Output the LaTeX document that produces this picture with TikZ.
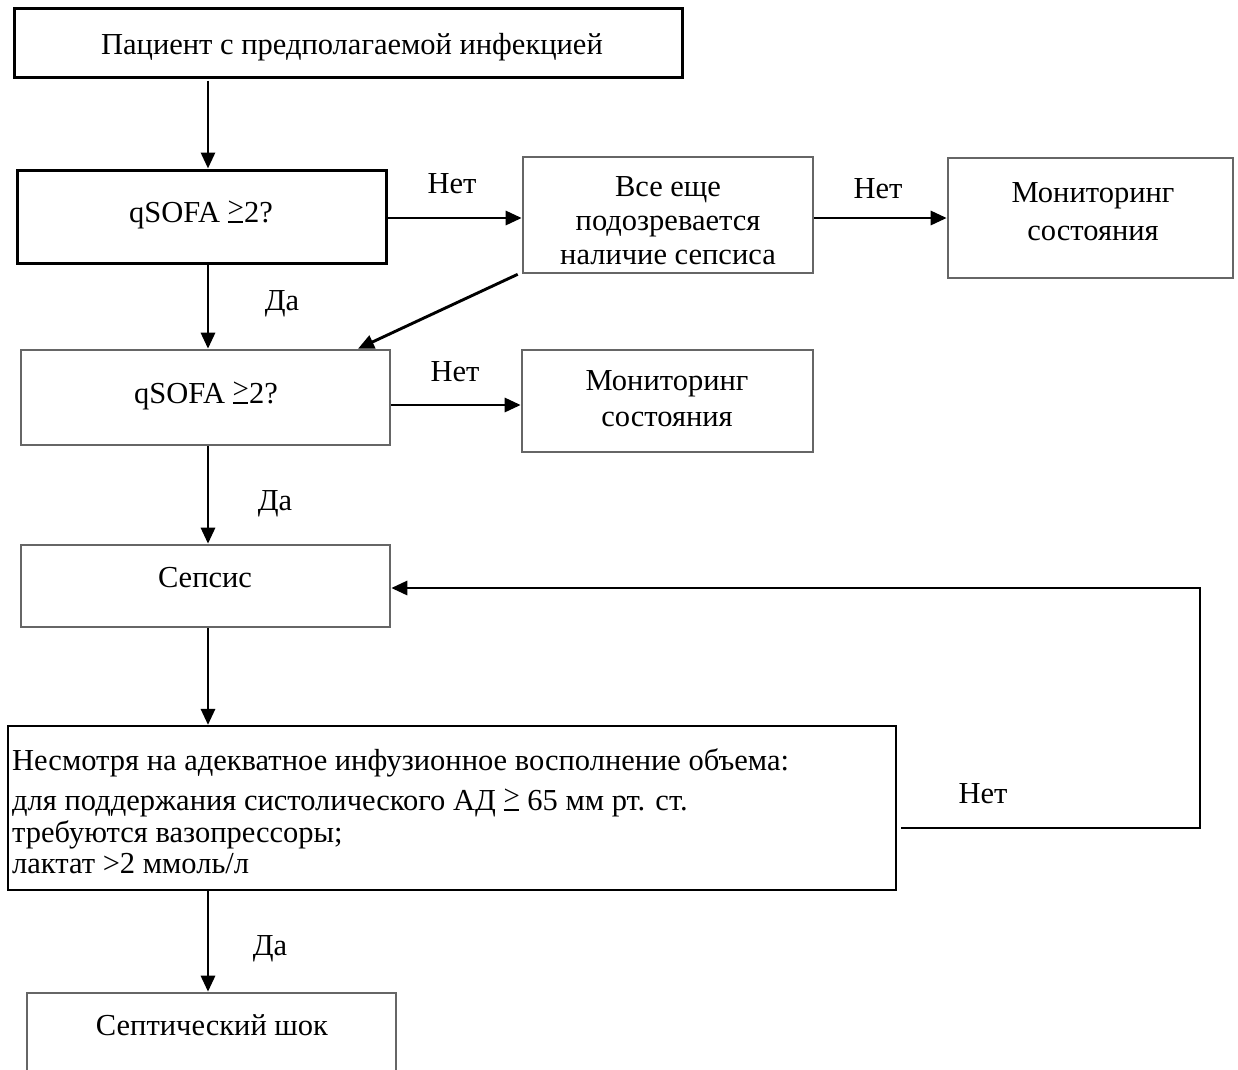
\documentclass[tikz,border=0pt]{standalone}
\usepackage{fontspec}
\setmainfont{Liberation Serif}
\usetikzlibrary{arrows.meta}
\newcommand{\mygeq}{\mbox{\raisebox{0.16em}{\scalebox{0.95}{>}}\llap{\rule[-0.02em]{0.5em}{0.055em}\hspace{0.03em}}}}
\begin{document}
\begin{tikzpicture}[x=1pt,y=-1pt,
  boxblack/.style={draw=black, line width=3pt, rectangle, inner sep=0pt},
  boxgray/.style={draw=black!60, line width=2.6pt, rectangle, inner sep=0pt},
  boxthin/.style={draw=black, line width=2.2pt, rectangle, inner sep=0pt},
  txt/.style={font=\fontsize{30.5}{35}\selectfont, inner sep=0pt, anchor=base},
  arr/.style={line width=2.9pt, -{Triangle[length=16pt,width=14pt]}}]
\clip (0,0) rectangle (1238,1069);
\fill[white] (0,0) rectangle (1238,1069);
% boxes
\node[boxblack, minimum width=668, minimum height=69] (b1) at (348,42.5) {};
\node[boxblack, minimum width=369, minimum height=93] (b2) at (201.5,216.5) {};
\node[boxgray, minimum width=290, minimum height=116] (b3) at (668,215) {};
\node[boxgray, minimum width=285, minimum height=120] (b4) at (1090.5,218) {};
\node[boxgray, minimum width=369, minimum height=95] (b5) at (205.5,397.5) {};
\node[boxgray, minimum width=291, minimum height=102] (b6) at (667.5,401) {};
\node[boxgray, minimum width=369, minimum height=82] (b7) at (205.5,586) {};
\node[boxthin, minimum width=888, minimum height=164] (b8) at (452,808) {};
\node[boxgray, minimum width=369, minimum height=120] (b9) at (211.5,1053) {};
% texts
\node[txt] (t1) at (352,54) {Пациент с предполагаемой инфекцией};
\node[txt] (t2) at (201,222) {qSOFA \mygeq2?};
\node[txt] (t3a) at (668,196) {Все еще};
\node[txt] (t3b) at (668,230) {подозревается};
\node[txt] (t3c) at (668,264) {наличие сепсиса};
\node[txt] (t4a) at (1093,202) {Мониторинг};
\node[txt] (t4b) at (1093,240) {состояния};
\node[txt] (t5) at (206,403) {qSOFA \mygeq2?};
\node[txt] (t6a) at (667,390) {Мониторинг};
\node[txt] (t6b) at (667,426) {состояния};
\node[txt] (t7) at (205,587) {Сепсис};
\node[txt, anchor=base west] (t8a) at (12,770) {Несмотря на адекватное инфузионное восполнение объема:};
\node[txt, anchor=base west] (t8b) at (12,810) {для поддержания систолического АД \mygeq\ 65 мм рт. ст.};
\node[txt, anchor=base west] (t8c) at (12,842) {требуются вазопрессоры;};
\node[txt, anchor=base west] (t8d) at (12,873) {лактат >2 ммоль/л};
\node[txt] (t9) at (212,1035) {Септический шок};
% labels
\node[txt] (l1) at (452,193) {Нет};
\node[txt] (l2) at (878,198) {Нет};
\node[txt] (l3) at (282,310) {Да};
\node[txt] (l4) at (455,381) {Нет};
\node[txt] (l5) at (275,510) {Да};
\node[txt] (l6) at (983,803) {Нет};
\node[txt] (l7) at (270,955) {Да};
% connectors
\draw[arr] (b1.south -| 208,0) ++(0,2) -- (b2.north -| 208,0);
\draw[arr] (b2.east |- 0,218) -- (b3.west |- 0,218);
\draw[arr] (b3.east |- 0,218) -- (b4.west |- 0,218);
\draw[arr] (b2.south -| 208,0) -- (b5.north -| 208,0);
\draw[arr] (b3.south west) ++(-4,0) -- (b5.north -| 358,0);
\draw[arr] (b5.east |- 0,405) -- (b6.west |- 0,405);
\draw[arr] (b5.south -| 208,0) -- (b7.north -| 208,0);
\draw[arr] (b7.south -| 208,0) -- (b8.north -| 208,0);
\draw[arr] (b8.south -| 208,0) -- (b9.north -| 208,0);
\coordinate (c1) at (1200,828);
\coordinate (c2) at (1200,588);
\draw[arr] (b8.east |- c1) ++(4,0) -- (c1) -- (c2) -- (b7.east |- c2);
\end{tikzpicture}
\end{document}
